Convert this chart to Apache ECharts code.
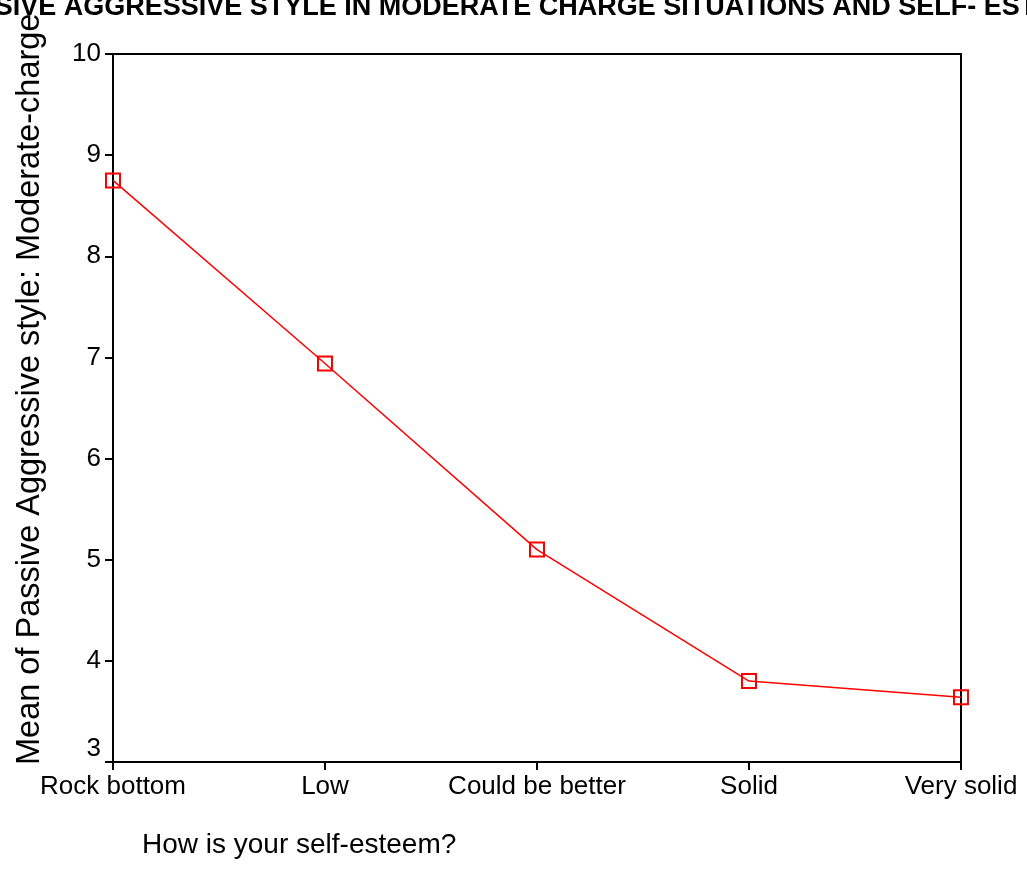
<!DOCTYPE html>
<html>
<head>
<meta charset="utf-8">
<script src="https://cdn.jsdelivr.net/npm/echarts@6/dist/echarts.min.js"></script>
<style>html,body{margin:0;padding:0;background:#fff;}#chart{width:1027px;height:890px;}</style>
</head>
<body>
<div id="chart"></div>
<script>
const categories = ['Rock bottom', 'Low', 'Could be better', 'Solid', 'Very solid'];
const meanValues = [8.75, 6.94, 5.10, 3.80, 3.64];
const yTicks = [3, 4, 5, 6, 7, 8, 9, 10];
const titleText = 'PASSIVE AGGRESSIVE STYLE IN MODERATE CHARGE SITUATIONS AND SELF- ESTEEM';
const yAxisTitle = 'Mean of Passive Aggressive style: Moderate-charge';
const xAxisTitle = 'How is your self-esteem?';

const FONT = '"Liberation Sans", Arial, sans-serif';
const chart = echarts.init(document.getElementById('chart'), null, {renderer: 'canvas'});
chart.setOption({
  animation: false,
  backgroundColor: '#fff',
  grid: {left: 113, right: 66, top: 54, bottom: 128, show: true, borderColor: '#000', borderWidth: 2, containLabel: false},
  xAxis: {
    type: 'category',
    data: categories,
    boundaryGap: false,
    axisLine: {lineStyle: {color: '#000', width: 2}},
    axisTick: {show: true, inside: false, length: 8, lineStyle: {color: '#000', width: 2}},
    axisLabel: {color: '#000', fontFamily: FONT, fontSize: 26, margin: 12, interval: 0},
    splitLine: {show: false}
  },
  yAxis: {
    type: 'value',
    min: yTicks[0],
    max: yTicks[yTicks.length - 1],
    interval: 1,
    axisLine: {show: true, lineStyle: {color: '#000', width: 2}},
    axisTick: {show: true, inside: false, length: 8, lineStyle: {color: '#000', width: 2}},
    axisLabel: {
      color: '#000', fontFamily: FONT, fontSize: 26, margin: 12,
      formatter: function (v) { return v === yTicks[0] ? '{low|' + v + '}' : String(v); },
      rich: {low: {fontFamily: FONT, fontSize: 26, color: '#000', padding: [0, 0, 26, 0]}}
    },
    splitLine: {show: false}
  },
  series: [{
    type: 'line',
    data: meanValues,
    clip: false,
    symbol: 'rect',
    symbolSize: 14,
    lineStyle: {color: '#ff0000', width: 1.5},
    itemStyle: {color: 'rgba(0,0,0,0)', borderColor: '#ff0000', borderWidth: 2}
  }],
  graphic: [
    {type: 'text', x: 518, y: 21, style: {text: titleText, font: 'bold 27px ' + FONT, fill: '#000', textAlign: 'center', textVerticalAlign: 'bottom'}},
    {type: 'text', x: 30, y: 765, rotation: Math.PI / 2, style: {text: yAxisTitle, font: '32.5px ' + FONT, fill: '#000', textAlign: 'left', textVerticalAlign: 'middle'}},
    {type: 'text', x: 142, y: 845, style: {text: xAxisTitle, font: '28px ' + FONT, fill: '#000', textAlign: 'left', textVerticalAlign: 'middle'}}
  ]
});
</script>
</body>
</html>
